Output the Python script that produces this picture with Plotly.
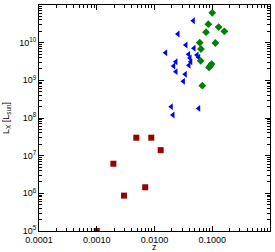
import plotly.graph_objects as go

red_z = [0.0010, 0.00194, 0.00296, 0.00484, 0.0088, 0.0128, 0.0069]
red_L = [1.0e5, 6.1e6, 8.7e5, 3.0e7, 3.0e7, 1.4e7, 1.45e6]

blue_z = [0.047, 0.0255, 0.035, 0.0483, 0.0156, 0.039, 0.0545, 0.0582, 0.0412, 0.0424,
          0.0235, 0.0395, 0.0215, 0.0235, 0.0341, 0.0316, 0.0195, 0.0582, 0.0209]
blue_L = [3.8e10, 1.7e10, 8.7e9, 7.1e9, 5.4e9, 4.9e9, 4.7e9, 4.1e9, 3.9e9, 3.1e9,
          3.1e9, 2.5e9, 2.4e9, 1.7e9, 1.45e9, 9.4e8, 2.0e8, 1.8e8, 1.2e8]

green_z = [0.100, 0.0855, 0.129, 0.162, 0.078, 0.0607, 0.113, 0.0638, 0.063, 0.0977,
           0.0925, 0.088, 0.0673]
green_L = [6.2e10, 3.1e10, 2.6e10, 2.0e10, 1.9e10, 1.0e10, 9.8e9, 6.8e9, 3.3e9, 2.7e9,
           2.45e9, 2.2e9, 7.2e8]

x_tickvals = [1e-4, 1e-3, 1e-2, 1e-1, 1.0]
x_ticktext = ["0.0001", "0.0010", "0.0100", "0.1000", "1.00"]
y_tickvals = [1e5, 1e6, 1e7, 1e8, 1e9, 1e10, 1e11]
y_ticktext = ["10<sup>5</sup>", "10<sup>6</sup>", "10<sup>7</sup>", "10<sup>8</sup>",
              "10<sup>9</sup>", "10<sup>10</sup>", "10<sup>11</sup>"]
x_minor = [m * 10.0 ** k for k in range(-4, 0) for m in range(2, 10)]
y_minor = [m * 10.0 ** k for k in range(5, 11) for m in range(2, 10)]

fig = go.Figure()
fig.add_trace(go.Scatter(x=red_z, y=red_L, mode="markers",
                         marker=dict(symbol="square", size=6, color="#990000")))
fig.add_trace(go.Scatter(x=blue_z, y=blue_L, mode="markers",
                         marker=dict(symbol="triangle-left", size=6, color="#0000ff")))
fig.add_trace(go.Scatter(x=green_z, y=green_L, mode="markers",
                         marker=dict(symbol="diamond", size=6, color="#008000")))

font = dict(family="Liberation Sans, Arial, sans-serif", size=9, color="black")
axis_common = dict(
    type="log", ticks="inside", ticklen=5, tickcolor="black", mirror="allticks",
    showline=True, linecolor="black", linewidth=1, showgrid=False,
    zeroline=False, automargin=False, tickfont=font,
)
fig.update_layout(
    width=275, height=252,
    margin=dict(l=39, r=5, t=5, b=21),
    paper_bgcolor="white", plot_bgcolor="white",
    showlegend=False,
    font=font,
    xaxis=dict(range=[-4, 0], tickvals=x_tickvals, ticktext=x_ticktext,
               minor=dict(ticks="inside", ticklen=3, tickcolor="black", showgrid=False,
                          tickvals=x_minor),
               **axis_common),
    yaxis=dict(range=[5, 11], tickvals=y_tickvals, ticktext=y_ticktext,
               minor=dict(ticks="inside", ticklen=3, tickcolor="black", showgrid=False,
                          tickvals=y_minor),
               **axis_common),
    annotations=[
        dict(text="z", xref="paper", yref="paper", x=0.5, y=-0.072,
             xanchor="center", yanchor="middle", showarrow=False, font=font),
        dict(text="L<sub>X</sub> [L<sub>sun</sub>]", xref="paper", yref="paper",
             x=-0.143, y=0.5, xanchor="center", yanchor="middle", textangle=-90,
             showarrow=False, font=font),
    ],
)
fig.write_html("out.html", config={"displayModeBar": False},
               post_script="document.body.style.margin='0';")
